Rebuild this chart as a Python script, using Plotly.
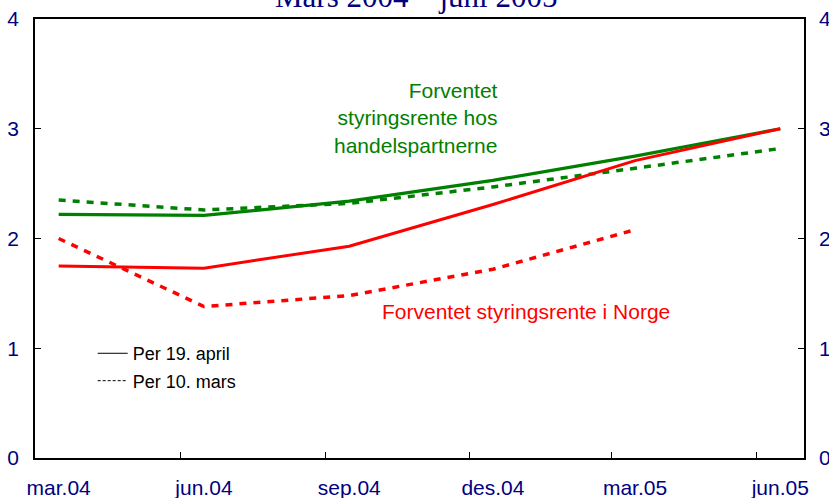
import plotly.graph_objects as go

# Data (quarterly, placed mid-month)
dates = ["2004-03-16", "2004-06-16", "2004-09-16", "2004-12-16", "2005-03-16", "2005-06-16"]
tick_dates = ["2004-03-01", "2004-06-01", "2004-09-01", "2004-12-01", "2005-03-01", "2005-06-01"]
label_dates = ["2004-03-16", "2004-06-16", "2004-09-16", "2004-12-16", "2005-03-16", "2005-06-16"]
tick_labels = ["mar.04", "jun.04", "sep.04", "des.04", "mar.05", "jun.05"]

partners_apr = [2.22, 2.21, 2.34, 2.53, 2.75, 3.00]
partners_mar = [2.35, 2.26, 2.32, 2.47, 2.64, 2.82]
norway_apr = [1.75, 1.73, 1.93, 2.31, 2.71, 3.00]
norway_mar = [2.00, 1.38, 1.48, 1.72, 2.08]

GREEN = "#008000"
RED = "#FF0000"
NAVY = "#000080"

fig = go.Figure()
fig.add_trace(go.Scatter(x=dates, y=partners_apr, mode="lines",
                         line=dict(color=GREEN, width=3.2), showlegend=False))
fig.add_trace(go.Scatter(x=dates, y=partners_mar, mode="lines",
                         line=dict(color=GREEN, width=3.5, dash="7px,7px"), showlegend=False))
fig.add_trace(go.Scatter(x=dates, y=norway_apr, mode="lines",
                         line=dict(color=RED, width=3), showlegend=False))
fig.add_trace(go.Scatter(x=dates[:5], y=norway_mar, mode="lines",
                         line=dict(color=RED, width=3.5, dash="7px,7px"), showlegend=False))

# legend entries
fig.add_trace(go.Scatter(x=[None], y=[None], mode="lines", name="Per 19. april",
                         line=dict(color="black", width=1), legendgroup="a"))
fig.add_trace(go.Scatter(x=[None], y=[None], mode="lines", name="Per 10. mars",
                         line=dict(color="black", width=1, dash="3px,2px"), legendgroup="b"))

# dummy traces for secondary axes
fig.add_trace(go.Scatter(x=[None], y=[None], yaxis="y2", showlegend=False))
fig.add_trace(go.Scatter(x=[None], y=[None], xaxis="x2", showlegend=False))

xrange = ["2004-03-01", "2005-07-01"]
tickfont = dict(family="Liberation Sans, Arial, sans-serif", size=21, color=NAVY)

fig.update_layout(
    width=829, height=498,
    margin=dict(l=35, r=25, t=19, b=40, autoexpand=False),
    paper_bgcolor="white", plot_bgcolor="white",
    font=dict(family="Liberation Sans, Arial, sans-serif"),
    xaxis=dict(type="date", range=xrange, tickvals=tick_dates, showticklabels=False,
               ticks="inside", ticklen=6, tickcolor="black", tickwidth=1,
               showline=True, linecolor="black", linewidth=1.5, mirror=True,
               showgrid=False, zeroline=False, automargin=False),
    xaxis2=dict(type="date", range=xrange, overlaying="x", side="bottom", anchor="y",
                tickvals=label_dates, ticktext=tick_labels, ticks="",
                tickfont=tickfont, ticklabelstandoff=15, automargin=False,
                showline=False, showgrid=False, zeroline=False),
    yaxis=dict(range=[0, 4], dtick=1, ticks="inside", ticklen=6, tickcolor="black",
               showline=True, linecolor="black", linewidth=1.5, mirror=True,
               tickfont=tickfont, ticklabelstandoff=10, automargin=False,
               showgrid=False, zeroline=False),
    yaxis2=dict(range=[0, 4], dtick=1, overlaying="y", side="right", anchor="x",
                ticks="inside", ticklen=6, tickcolor="black",
                showline=True, linecolor="black", linewidth=1.5,
                tickfont=tickfont, ticklabelstandoff=9, automargin=False,
                showgrid=False, zeroline=False),
    legend=dict(x=0.075, y=0.28, xanchor="left", yanchor="top",
                bgcolor="rgba(0,0,0,0)", tracegroupgap=1,
                font=dict(family="Liberation Sans, Arial, sans-serif", size=18, color="black")),
    showlegend=True,
)

fig.add_annotation(text="Forventet<br>styringsrente hos<br>handelspartnerne",
                   xref="paper", yref="paper", x=(500 - 35) / 769, y=(458 - 77) / 439,
                   xanchor="right", yanchor="top", align="right", showarrow=False,
                   font=dict(size=21, color=GREEN))
fig.add_annotation(text="Forventet styringsrente i Norge",
                   xref="paper", yref="paper", x=(526 - 35) / 769, y=(458 - 311) / 439,
                   xanchor="center", yanchor="middle", showarrow=False,
                   font=dict(size=21, color=RED))
fig.add_annotation(text="Mars 2004 – juni 2005",
                   xref="paper", yref="paper", x=(416 - 35) / 769, y=(458 - 16) / 439,
                   xanchor="center", yanchor="bottom", showarrow=False,
                   font=dict(family="Liberation Serif, Times New Roman, serif", size=31, color=NAVY))

fig.write_html("out.html", config={"displayModeBar": False},
               post_script="document.body.style.margin='0px';")
